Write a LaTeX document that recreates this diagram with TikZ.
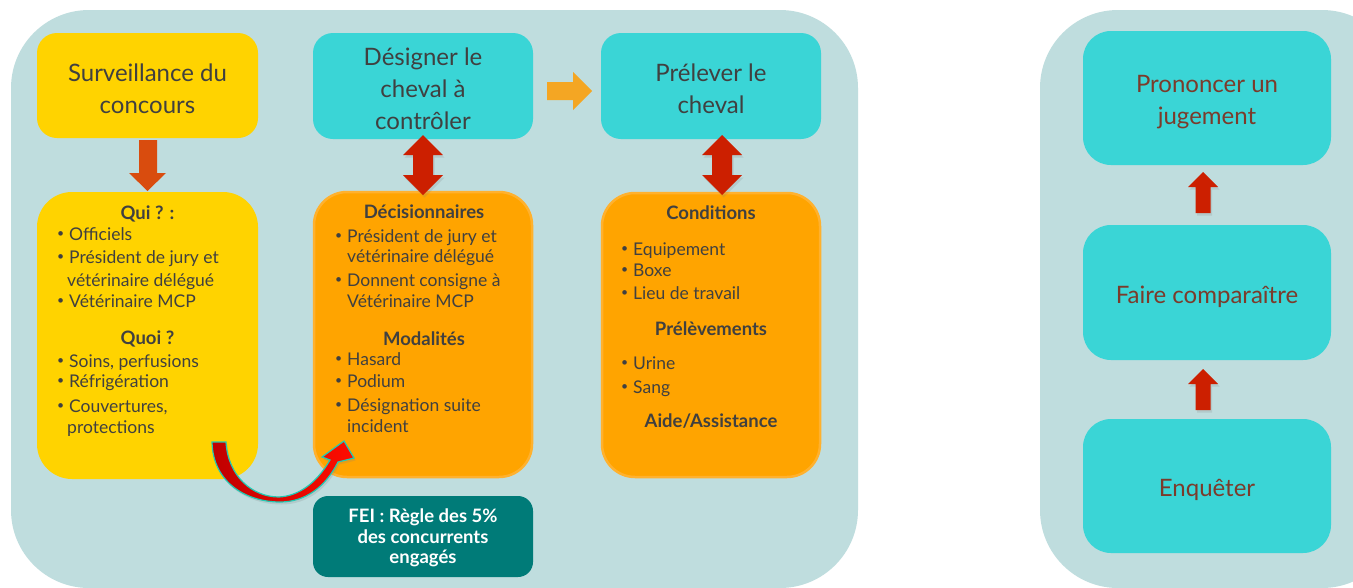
\documentclass[tikz,border=0pt]{standalone}
\usepackage{fontspec}
\setmainfont{Lato}
\usetikzlibrary{shadows,calc}
\definecolor{panel}{HTML}{BFDDDE}
\definecolor{yel}{HTML}{FFD300}
\definecolor{cyanbox}{HTML}{3AD5D6}
\definecolor{orbox}{HTML}{FFA400}
\definecolor{orline}{HTML}{FFB12E}
\definecolor{txtgray}{HTML}{404040}
\definecolor{brownt}{HTML}{7B3B2B}
\definecolor{orarrow}{HTML}{F4A623}
\definecolor{downarrow}{HTML}{D94C0E}
\definecolor{redarrow}{HTML}{CC1F00}
\definecolor{tealbox}{HTML}{007B78}
\definecolor{tealline}{HTML}{22C9B3}
\newcommand{\bu}{\makebox[12pt][l]{\raisebox{0.25ex}{\scalebox{0.7}{\textbullet}}}}
\newcommand{\titlefont}{\fontsize{24}{32}\selectfont}
\newcommand{\bodyfont}{\fontsize{17.5}{21}\selectfont}
\newcommand{\headfont}{\fontsize{18.5}{21}\selectfont\bfseries}
\begin{document}
\begin{tikzpicture}[x=1pt,y=-1pt,
  box/.style={rounded corners=#1, inner sep=0pt},
  yelbox/.style={box=#1, fill=yel},
  cyanb/.style={box=#1, fill=cyanbox},
  orb/.style={box=#1, fill=orbox, draw=orline, line width=2.5pt},
  ttl/.style={inner sep=0pt, align=center, font=\titlefont, text=txtgray},
  ttlr/.style={ttl, text=brownt},
  bl/.style={anchor=base west, inner sep=0pt, font=\bodyfont, text=txtgray},
  hd/.style={anchor=base, inner sep=0pt, font=\headfont, text=txtgray},
  arrshadow/.style={drop shadow={opacity=0.2, shadow xshift=1.5pt, shadow yshift=-2.5pt}},
]
\clip (0,0) rectangle (1353,587);
\fill[white] (0,0) rectangle (1353,587);
% panels
\fill[panel, rounded corners=78pt] (11,10) rectangle (858,588);
\fill[panel, rounded corners=78pt] (1040,10) rectangle (1400,588);

% top boxes
\node[yelbox=20pt, minimum width=221pt, minimum height=105pt] (surv) at (147.5,85.5) {};
\node[cyanb=20pt, minimum width=220pt, minimum height=106pt] (desig) at (423,86) {};
\node[cyanb=20pt, minimum width=220pt, minimum height=106pt] (prel) at (711,86) {};
\node[ttl] (survt) at ($(surv.center)+(0,3)$) {Surveillance du\\concours};
\node[ttl] (desigt) at ($(desig.center)+(0,3)$) {Désigner le\\cheval à\\contrôler};
\node[ttl] (prelt) at ($(prel.center)+(0,3)$) {Prélever le\\cheval};

% lower boxes
\node[yelbox=35pt, minimum width=221pt, minimum height=287pt] (qui) at (147.5,335.5) {};
\node[orb=33pt, minimum width=218pt, minimum height=285pt] (deci) at (423,334.5) {};
\node[orb=33pt, minimum width=218pt, minimum height=284pt] (cond) at (711,335) {};
\node[box=15pt, fill=tealbox, minimum width=220pt, minimum height=81pt] (fei) at (423,536.5) {};

% right column
\node[box=28pt, fill=cyanbox, minimum width=248pt, minimum height=134pt] (pron) at (1207,98) {};
\node[box=28pt, fill=cyanbox, minimum width=248pt, minimum height=135pt] (faire) at (1207,292.5) {};
\node[box=28pt, fill=cyanbox, minimum width=248pt, minimum height=134pt] (enq) at (1207,486) {};
\node[ttlr] (pront) at ($(pron.center)+(0,4)$) {Prononcer un\\jugement};
\node[ttlr] (fairet) at ($(faire.center)+(0,4)$) {Faire comparaître};
\node[ttlr] (enqt) at ($(enq.center)+(0,4)$) {Enquêter};

% Qui box text
\node[hd] (q1) at (147.5,219) {Qui ? :};
\node[bl] (q2) at (57,240) {\bu Officiels};
\node[bl] (q3) at (57,263) {\bu Président de jury et};
\node[bl] (q4) at (67,286) {vétérinaire délégué};
\node[bl] (q5) at (57,307) {\bu Vétérinaire MCP};
\node[hd] (q6) at (147.5,344) {Quoi ?};
\node[bl] (q7) at (57,367) {\bu Soins, perfusions};
\node[bl] (q8) at (57,387) {\bu Réfrigération};
\node[bl] (q9) at (57,412) {\bu Couvertures,};
\node[bl] (q10) at (67,433) {protections};

% Décisionnaires box text
\node[hd] (d1) at (424,218) {Décisionnaires};
\node[bl] (d2) at (335,242) {\bu Président de jury et};
\node[bl] (d3) at (347,262) {vétérinaire délégué};
\node[bl] (d4) at (335,286) {\bu Donnent consigne à};
\node[bl] (d5) at (347,307) {Vétérinaire MCP};
\node[hd] (d6) at (424,345) {Modalités};
\node[bl] (d7) at (335,365) {\bu Hasard};
\node[bl] (d8) at (335,387) {\bu Podium};
\node[bl] (d9) at (335,411) {\bu Désignation suite};
\node[bl] (d10) at (347,432) {incident};

% Conditions box text
\node[hd] (c1) at (711,219) {Conditions};
\node[bl] (c2) at (621,255) {\bu Equipement};
\node[bl] (c3) at (621,276) {\bu Boxe};
\node[bl] (c4) at (621,299) {\bu Lieu de travail};
\node[hd] (c5) at (711,335) {Prélèvements};
\node[bl] (c6) at (621,369) {\bu Urine};
\node[bl] (c7) at (621,393) {\bu Sang};
\node[hd] (c8) at (711,427) {Aide/Assistance};

% FEI text
\node[hd, text=white] (f1) at (423,522) {FEI : Règle des 5\%};
\node[hd, text=white] (f2) at (423,543) {des concurrents};
\node[hd, text=white] (f3) at (423,563) {engagés};

% arrows
\fill[downarrow] (139,140) -- (157,140) -- (157,173) -- (166,173) -- (147.5,191) -- (129,173) -- (139,173) -- cycle;
\fill[orarrow] (547,82) -- (573,82) -- (573,72) -- (592,91) -- (573,110) -- (573,100) -- (547,100) -- cycle;
\fill[redarrow, arrshadow] (423,135) -- (443,155) -- (433,155) -- (433,175) -- (443,175) -- (423,195) -- (403,175) -- (413,175) -- (413,155) -- (403,155) -- cycle;
\fill[redarrow, arrshadow] (722,135) -- (742,155) -- (732,155) -- (732,175) -- (742,175) -- (722,195) -- (702,175) -- (712,175) -- (712,155) -- (702,155) -- cycle;
\fill[redarrow, arrshadow] (1203,172) -- (1218,187) -- (1210.5,187) -- (1210.5,213) -- (1195.5,213) -- (1195.5,187) -- (1188,187) -- cycle;
\fill[redarrow, arrshadow] (1203,369) -- (1218,384) -- (1210.5,384) -- (1210.5,410) -- (1195.5,410) -- (1195.5,384) -- (1188,384) -- cycle;

% curved arrow
\path[left color=red!75!black, right color=red!90!orange, draw=tealline, line width=1.2pt, line join=miter, arrshadow]
  (212,442) .. controls (213,484) and (248,502) .. (280,502)
  .. controls (306,502) and (326,486) .. (338,462)
  -- (354,458) -- (344,441) -- (322,457) -- (330,460)
  .. controls (316,484) and (298,496) .. (279,497)
  .. controls (252,497) and (228,476) .. (226,442) -- cycle;
\end{tikzpicture}
\end{document}
